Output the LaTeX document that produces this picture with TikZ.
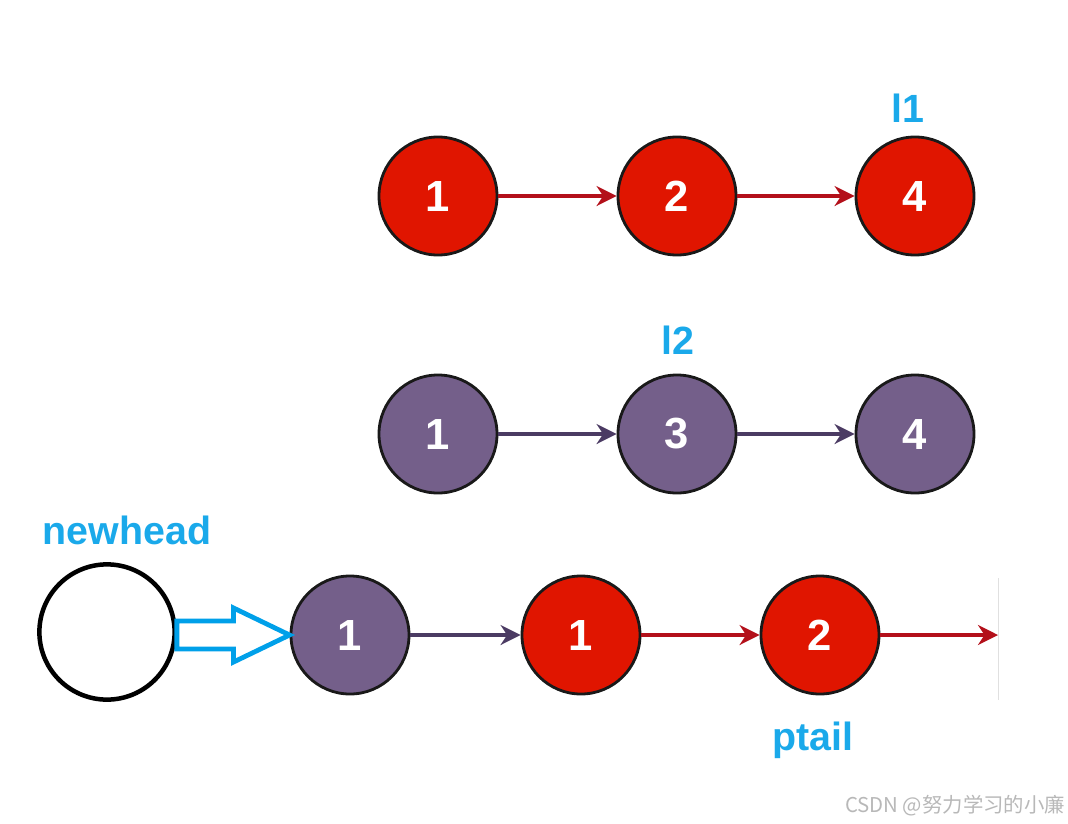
\documentclass[tikz,border=0pt]{standalone}
\usepackage{fontspec}
\setsansfont{Liberation Sans}
\newfontfamily\cjk{Noto Sans CJK SC}
\usetikzlibrary{arrows.meta, calc}
\definecolor{NodeRed}{HTML}{E01500}
\definecolor{NodePurple}{HTML}{745F8A}
\definecolor{LinkRed}{HTML}{B3101A}
\definecolor{LinkPurple}{HTML}{4B3B63}
\definecolor{LabelBlue}{HTML}{1AA9EA}
\definecolor{ArrowBlue}{HTML}{00A0E9}
\tikzset{
  % Node styles
  rednode/.style={circle, draw=black!90, line width=2pt, fill=NodeRed, text=white, minimum size=2.95cm, inner sep=0pt, font=\sffamily\bfseries\fontsize{31}{31}\selectfont},
  purplenode/.style={rednode, fill=NodePurple},
  emptynode/.style={circle, draw=black, line width=3.2pt, minimum size=3.38cm, fill=white},
  labeltext/.style={text=LabelBlue, font=\sffamily\bfseries\fontsize{28}{28}\selectfont},
  % Arrow styles
  redlink/.style={-{Stealth[length=5mm,width=5mm]}, line width=2.2pt, LinkRed},
  purplelink/.style={redlink, LinkPurple},
  blockarrow/.style={line width=3.4pt, ArrowBlue, line join=miter}
}
\begin{document}
\begin{tikzpicture}[x=0.025cm, y=-0.025cm]
  \useasboundingbox (0,0) rectangle (1068,824);

  % List l1
  \node[rednode] (a1) at (438,196) {1};
  \node[rednode] (a2) at (677,196) {2};
  \node[rednode] (a4) at (915,196) {4};
  \draw[redlink] (a1) -- (a2);
  \draw[redlink] (a2) -- (a4);
  \node[labeltext] (l1) at (908,108) {l1};

  % List l2
  \node[purplenode] (b1) at (438,434) {1};
  \node[purplenode] (b3) at (677,434) {3};
  \node[purplenode] (b4) at (915,434) {4};
  \draw[purplelink] (b1) -- (b3);
  \draw[purplelink] (b3) -- (b4);
  \node[labeltext] (l2) at (678,340) {l2};

  % Merged list
  \node[emptynode] (newhead) at (107,632) {};
  \node[labeltext] (headlabel) at (127,530) {newhead};
  \node[purplenode] (c1) at (350,635) {1};
  \node[rednode] (c2) at (581,635) {1};
  \node[rednode] (c3) at (820,635) {2};
  \coordinate (tailend) at (998,635);
  \draw[purplelink] (c1) -- (c2);
  \draw[redlink] (c2) -- (c3);
  \draw[redlink] (c3) -- (tailend);
  \draw[black!12, line width=0.6pt] (998,578) -- (998,700);
  \node[labeltext] (ptail) at (813,740) {ptail};

  % Hollow arrow newhead -> first node
  \coordinate (shaftstart) at (newhead.east |- c1.west);
  \draw[blockarrow] ($(shaftstart)+(0,-14)$) -- ($(c1.west)+(-56,-14)$) -- ($(c1.west)+(-56,-27)$)
    -- (c1.west) -- ($(c1.west)+(-56,27)$) -- ($(c1.west)+(-56,14)$) -- ($(shaftstart)+(0,14)$) -- cycle;

  \node[text=black!28, font=\cjk\fontsize{14.5}{14.5}\selectfont] (mark) at (955,806) {CSDN @努力学习的小廉};
\end{tikzpicture}
\end{document}
